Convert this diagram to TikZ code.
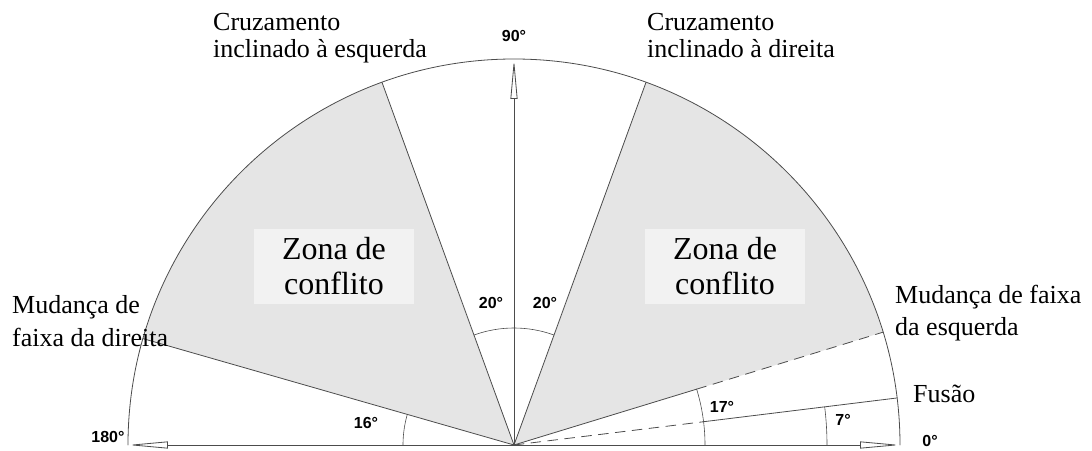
\documentclass[tikz,border=0pt]{standalone}
\usepackage{fontspec}
\setmainfont{Liberation Serif}
\setsansfont{Liberation Sans}
\usetikzlibrary{arrows.meta}
\begin{document}
\begin{tikzpicture}[x=1pt,y=1pt,line join=round,line cap=round,
	ax/.style={draw=black!70,line width=0.8pt},
	tip/.style={-{Triangle[open,length=40pt,width=7pt]}},
	lbl/.style={inner sep=0pt,align=left,font=\fontsize{26}{27}\selectfont},
	deg/.style={inner sep=0pt,font=\fontsize{16}{16}\sffamily\bfseries},
	zone/.style={fill=gray!10,inner xsep=28pt,inner ysep=9pt,align=center,font=\fontsize{32}{35}\selectfont}]
	\useasboundingbox (-514,-5) rectangle (578,445);
	\def\R{386}
	\coordinate (O) at (0,0);
	\coordinate (E) at (0:\R);
	\coordinate (W) at (180:\R);
	\coordinate (N) at (90:\R);
	% zonas de conflito
	\fill[gray!20] (O) -- (164:\R) arc (164:110:\R) -- cycle;
	\fill[gray!20] (O) -- (17:\R) arc (17:70:\R) -- cycle;
	\draw[ax] (E) arc (0:180:\R);
	\draw[ax,tip] (O)--(E);
	\draw[ax,tip] (O)--(W);
	\draw[ax,tip] (O)--(N);
	\draw[ax] (O)--(164:\R) (O)--(110:\R) (O)--(70:\R);
	\draw[ax] (O)--(17:191) (7:191)--(7:\R);
	\draw[ax,dash pattern=on 10pt off 7pt] (17:191)--(17:\R) (O)--(7:191);
	% arcos dos angulos
	\draw[ax,line width=0.6pt] (70:117) arc (70:110:117) (164:111) arc (164:180:111)
	(0:191) arc (0:17:191) (0:313) arc (0:7:313);
	\node[deg] (a90) at (0,409) {90°};
	\node[deg] (a180) at (-406,8) {180°};
	\node[deg] (a0) at (416,4) {0°};
	\node[deg] (a16) at (-148,22) {16°};
	\node[deg] (a17) at (208,38) {17°};
	\node[deg] (a7) at (329,25) {7°};
	\node[deg] (a20l) at (-23,142) {20°};
	\node[deg] (a20r) at (31,142) {20°};
	\node[lbl,anchor=base west] (cesq) at (-301,387) {Cruzamento\\inclinado à esquerda};
	\node[lbl,anchor=base west] (cdir) at (133,387) {Cruzamento\\inclinado à direita};
	\node[lbl,anchor=base west,font=\fontsize{26}{34}\selectfont] (mdir) at (-502,98) {Mudança de\\faixa da direita};
	\node[lbl,anchor=base west,font=\fontsize{26}{33}\selectfont] (mesq) at (381,109) {Mudança de faixa\\da esquerda};
	\node[lbl,anchor=base west] (fus) at (399,42) {Fusão};
	\node[zone,anchor=base] (zl) at (-180,150) {Zona de\\conflito};
	\node[zone,anchor=base] (zr) at (211,150) {Zona de\\conflito};
\end{tikzpicture}
\end{document}
